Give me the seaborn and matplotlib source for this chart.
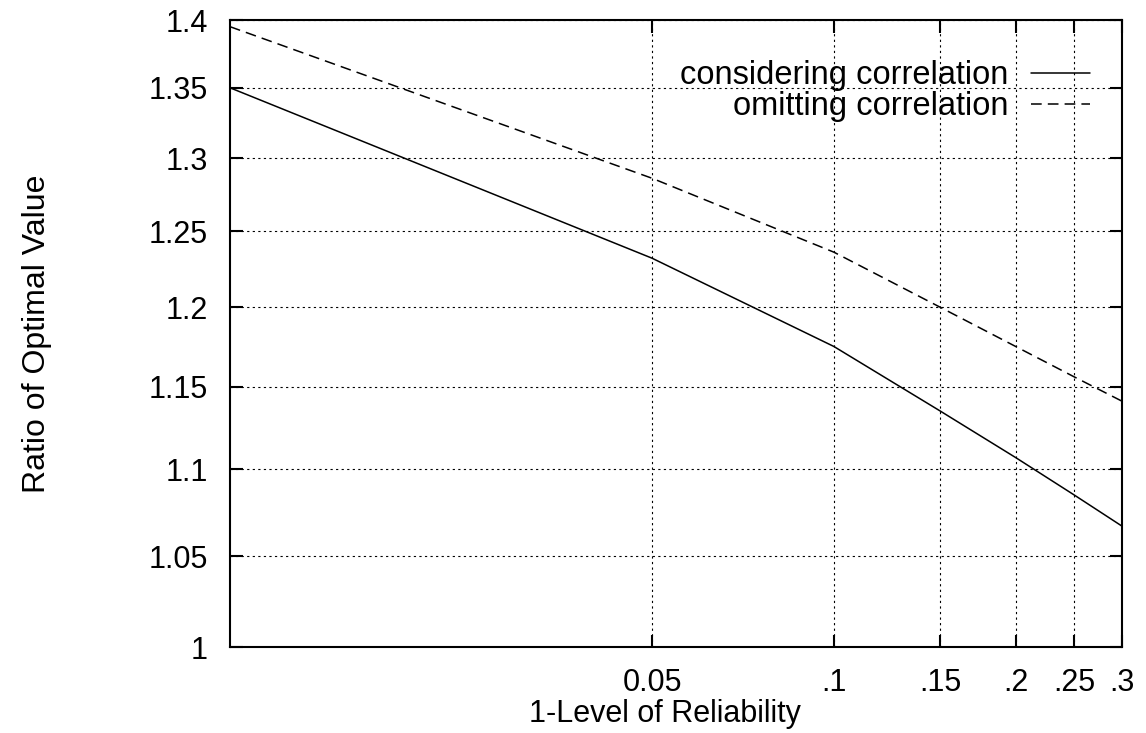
import numpy as np
import pandas as pd
import matplotlib
matplotlib.use("Agg")
import matplotlib.pyplot as plt
import seaborn as sns
from matplotlib.ticker import FixedLocator, FixedFormatter, NullLocator

# ---- data ----
reliability = [0.01, 0.05, 0.1, 0.15, 0.2, 0.25, 0.3]
considering = [1.350, 1.232, 1.175, 1.135, 1.107, 1.085, 1.067]
omitting = [1.395, 1.286, 1.236, 1.200, 1.175, 1.156, 1.141]
series_names = ["considering correlation", "omitting correlation"]

x_ticks = [0.05, 0.1, 0.15, 0.2, 0.25, 0.3]
x_tick_labels = ["0.05", ".1", ".15", ".2", ".25", ".3"]
y_ticks = [1.0, 1.05, 1.1, 1.15, 1.2, 1.25, 1.3, 1.35, 1.4]
y_tick_labels = ["1", "1.05", "1.1", "1.15", "1.2", "1.25", "1.3", "1.35", "1.4"]

df = pd.DataFrame({
    "x": reliability * 2,
    "y": considering + omitting,
    "series": [series_names[0]] * len(reliability) + [series_names[1]] * len(reliability),
})

sns.set_theme(style="white")
plt.rcParams["font.family"] = ["Liberation Sans", "DejaVu Sans"]
plt.rcParams["font.size"] = 22

fig = plt.figure(figsize=(11.46, 7.33), dpi=100)
ax = fig.add_axes([0.2007, 0.1173, 0.7784, 0.8554])

sns.lineplot(data=df, x="x", y="y", style="series", ax=ax, color="black",
             linewidth=1.1,
             dashes={series_names[0]: "", series_names[1]: (7, 4)})

ax.set_xscale("log")
ax.set_yscale("log")
ax.set_xlim(0.01, 0.3)
ax.set_ylim(1.0, 1.4)

ax.xaxis.set_major_locator(FixedLocator(x_ticks))
ax.xaxis.set_major_formatter(FixedFormatter(x_tick_labels))
ax.xaxis.set_minor_locator(NullLocator())
ax.yaxis.set_major_locator(FixedLocator(y_ticks))
ax.yaxis.set_major_formatter(FixedFormatter(y_tick_labels))
ax.yaxis.set_minor_locator(NullLocator())

ax.tick_params(axis="both", which="major", direction="in", length=9, width=1.5,
               color="black", labelcolor="black", labelsize=22,
               top=True, right=True, bottom=True, left=True)
ax.tick_params(axis="y", pad=16)
ax.tick_params(axis="x", pad=15)

ax.grid(True, which="major", color="black", linestyle=(0, (2, 3)), linewidth=0.8)

for s in ax.spines.values():
    s.set_color("black")
    s.set_linewidth(1.5)
    s.set_visible(True)

ax.set_xlabel("1-Level of Reliability", fontsize=22, color="black", labelpad=-2)
ax.xaxis.set_label_coords(0.488, -0.083)
ax.set_ylabel("Ratio of Optimal Value", fontsize=23, color="black")
ax.yaxis.set_label_coords(-0.200, 0.5)

handles, labels = ax.get_legend_handles_labels()
leg = ax.legend(handles, labels, loc="upper right", bbox_to_anchor=(0.964, 0.936),
                borderaxespad=0, borderpad=0, frameon=False, markerfirst=False,
                handlelength=1.8, handletextpad=0.7, labelspacing=0.0,
                fontsize=23.5)
for t in leg.get_texts():
    t.set_color("black")

fig.savefig("out.png", dpi=100, facecolor="white")
